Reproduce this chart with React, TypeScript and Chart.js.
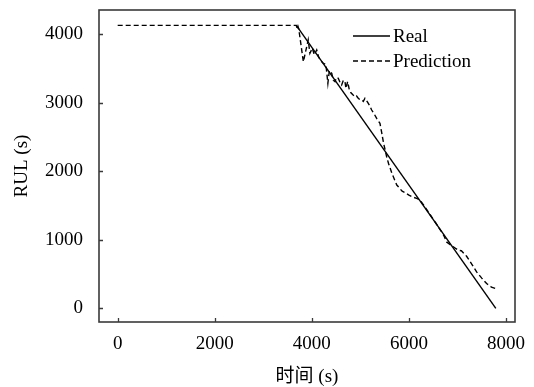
import React, { useEffect, useRef } from "react";
import { Chart, registerables } from "chart.js";

Chart.register(...registerables);

// ---- data ----
const realX = [3680, 7790];
const realY = [4130, 0];

const predX = [0, 3680, 3700, 3715, 3730, 3825, 3925, 3960, 4010, 4050, 4100, 4135, 4170, 4235, 4290, 4330, 4360, 4410, 4440, 4476, 4510, 4544, 4580, 4614, 4650, 4682, 4702, 4737, 4773, 4800, 4840, 4888, 4920, 4956, 5000, 5026, 5060, 5094, 5141, 5190, 5232, 5290, 5335, 5403, 5440, 5475, 5510, 5545, 5580, 5650, 5750, 5860, 5920, 6000, 6080, 6160, 6230, 6300, 6420, 6560, 6673, 6720, 6776, 6850, 6950, 7016, 7080, 7188, 7290, 7394, 7500, 7600, 7700, 7790];
const predY = [4130, 4130, 4070, 4115, 4080, 3600, 3918, 3723, 3797, 3699, 3772, 3680, 3626, 3577, 3560, 3285, 3470, 3431, 3330, 3309, 3370, 3358, 3300, 3260, 3330, 3309, 3212, 3309, 3187, 3150, 3120, 3089, 3100, 3066, 3040, 3041, 3020, 3066, 3016, 2960, 2895, 2830, 2773, 2700, 2560, 2420, 2310, 2200, 2115, 1969, 1800, 1710, 1690, 1652, 1625, 1604, 1579, 1510, 1384, 1238, 1115, 1060, 969, 930, 880, 848, 840, 760, 650, 531, 440, 361, 310, 288];

const xTickValues = [0, 2000, 4000, 6000, 8000];
const yTickValues = [0, 1000, 2000, 3000, 4000];

const seriesNames = ["Real", "Prediction"];
const xTitle = "时间 (s)";
const yTitle = "RUL (s)";

const FONT = "'Liberation Serif', 'Times New Roman', 'Noto Sans CJK SC', serif";
const DASH = [5, 3];
const LW = 1.4;

const framePlugin = {
  id: "frameAndLegend",
  afterDraw(chart: any) {
    const { ctx, chartArea, scales } = chart;
    const { left, right, top, bottom } = chartArea;
    ctx.save();
    ctx.strokeStyle = "#3a3a3a";
    ctx.lineWidth = 1.6;
    ctx.strokeRect(left, top, right - left, bottom - top);
    ctx.lineWidth = 1.3;
    ctx.beginPath();
    for (const v of xTickValues) {
      const px = Math.round(scales.x.getPixelForValue(v)) + 0.5;
      ctx.moveTo(px, bottom);
      ctx.lineTo(px, bottom - 4);
    }
    for (const v of yTickValues) {
      const py = Math.round(scales.y.getPixelForValue(v)) + 0.5;
      ctx.moveTo(left, py);
      ctx.lineTo(left + 4, py);
    }
    ctx.stroke();

    // legend
    const lx0 = left + 254;
    const lx1 = left + 291;
    const rows = [top + 26, top + 51];
    ctx.strokeStyle = "#000";
    ctx.lineWidth = LW;
    ctx.font = `19px ${FONT}`;
    ctx.fillStyle = "#000";
    ctx.textBaseline = "middle";
    ctx.textAlign = "left";
    seriesNames.forEach((name, i) => {
      ctx.setLineDash(i === 0 ? [] : DASH);
      ctx.beginPath();
      ctx.moveTo(lx0, rows[i]);
      ctx.lineTo(lx1, rows[i]);
      ctx.stroke();
      ctx.fillText(name, lx1 + 3, rows[i] + 1);
    });
    ctx.restore();
  },
};

export default function App() {
  const ref = useRef<HTMLCanvasElement>(null);
  useEffect(() => {
    if (!ref.current) return;
    const chart = new Chart(ref.current, {
      type: "line",
      data: {
        datasets: [
          {
            label: seriesNames[0],
            data: realX.map((x, i) => ({ x, y: realY[i] })),
            borderColor: "#000",
            borderWidth: LW,
            pointRadius: 0,
            tension: 0,
            fill: false,
          },
          {
            label: seriesNames[1],
            data: predX.map((x, i) => ({ x, y: predY[i] })),
            borderColor: "#000",
            borderWidth: LW,
            borderDash: DASH,
            pointRadius: 0,
            tension: 0,
            fill: false,
          },
        ],
      },
      options: {
        animation: false,
        responsive: true,
        maintainAspectRatio: false,
        layout: { padding: { left: 0, top: 10, right: 19, bottom: 0 } },
        plugins: { legend: { display: false }, tooltip: { enabled: false } },
        scales: {
          x: {
            type: "linear",
            min: -385,
            max: 8185,
            grid: { display: false, drawTicks: false },
            border: { display: false },
            afterBuildTicks: (s: any) => {
              s.ticks = xTickValues.map((v) => ({ value: v }));
            },
            afterFit: (s: any) => {
              s.height = 65;
              s.paddingLeft = 0;
              s.paddingRight = 0;
              s.paddingTop = 0;
              s.paddingBottom = 0;
            },
            ticks: {
              padding: 11,
              color: "#000",
              font: { family: FONT, size: 19, lineHeight: 1.2 },
              callback: (v: any) => String(v),
              maxRotation: 0,
            },
            title: {
              display: true,
              text: xTitle,
              color: "#000",
              font: { family: FONT, size: 19, lineHeight: 1 },
              padding: { top: 0, bottom: 0 },
            },
          },
          y: {
            type: "linear",
            min: -200,
            max: 4355,
            grid: { display: false, drawTicks: false },
            border: { display: false },
            afterBuildTicks: (s: any) => {
              s.ticks = yTickValues.map((v) => ({ value: v }));
            },
            afterFit: (s: any) => {
              s.width = 99;
              s.paddingLeft = 0;
              s.paddingRight = 0;
              s.paddingTop = 0;
              s.paddingBottom = 0;
            },
            ticks: {
              padding: 16,
              color: "#000",
              font: { family: FONT, size: 19, lineHeight: 1.2 },
              callback: (v: any) => String(v),
            },
            title: {
              display: true,
              text: yTitle,
              color: "#000",
              font: { family: FONT, size: 19, lineHeight: 1 },
              padding: { top: 13, bottom: 0 },
            },
          },
        },
      },
      plugins: [framePlugin],
    });
    return () => chart.destroy();
  }, []);

  return (
    <div style={{ position: "absolute", left: 0, top: 0, width: 534, height: 387, background: "#fff" }}>
      <canvas ref={ref} />
    </div>
  );
}
